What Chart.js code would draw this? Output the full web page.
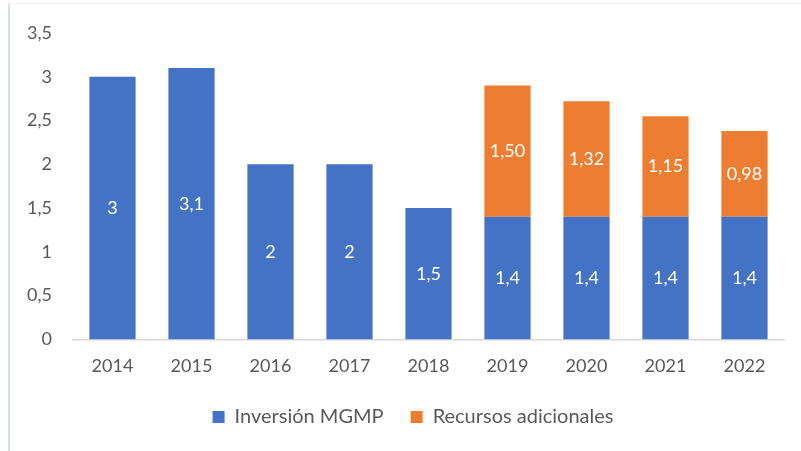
<!DOCTYPE html>
<html>
<head>
<meta charset="utf-8">
<script src="https://cdn.jsdelivr.net/npm/chart.js@4.4.0/dist/chart.umd.min.js"></script>
<style>
  html, body { margin: 0; padding: 0; background: #fff; }
  #caja { position: absolute; left: 8px; top: 3px; width: 793px; height: 448px;
          border-left: 2px solid #d6deee; border-top: 1px solid #eef1f7; box-sizing: border-box; }
  #grafico { position: absolute; left: 0; top: 0; }
</style>
</head>
<body>
<div id="caja"></div>
<canvas id="grafico" width="801" height="451"></canvas>
<script>
var anios = ['2014', '2015', '2016', '2017', '2018', '2019', '2020', '2021', '2022'];
var inversion_mgmp = [3, 3.1, 2, 2, 1.5, 1.4, 1.4, 1.4, 1.4];
var recursos_adicionales = [null, null, null, null, null, 1.50, 1.32, 1.15, 0.98];
var ticks_y = ['0', '0,5', '1', '1,5', '2', '2,5', '3', '3,5'];

var fuente = 'Lato, "Open Sans", sans-serif';

// etiquetas blancas en el centro de cada barra
var etiquetas = {
    id: 'etiquetas',
    afterLayout: function (chart) {
        // correr la leyenda un poco a la derecha
        chart.legend.left += 30;
    },
    afterDatasetsDraw: function (chart) {
        var ctx = chart.ctx;
        ctx.save();
        ctx.fillStyle = '#ffffff';
        ctx.font = '18px ' + fuente;
        ctx.textAlign = 'center';
        ctx.textBaseline = 'middle';
        chart.data.datasets.forEach(function (ds, d) {
            var meta = chart.getDatasetMeta(d);
            meta.data.forEach(function (bar, i) {
                var v = ds.data[i];
                if (v == null) return;
                var txt = d == 0 ? String(v).replace('.', ',') : v.toFixed(2).replace('.', ',');
                ctx.fillText(txt, bar.x, (bar.y + bar.base) / 2);
            });
        });
        ctx.restore();
    }
};

var chart_barras = new Chart(document.getElementById('grafico').getContext('2d'), {
    type: 'bar',
    data: {
        labels: anios,
        datasets: [{
            label: 'Inversión MGMP',
            data: inversion_mgmp,
            backgroundColor: '#4472C4',
            categoryPercentage: 1,
            barPercentage: 0.585
        }, {
            label: 'Recursos adicionales',
            data: recursos_adicionales,
            backgroundColor: '#ED7D31',
            categoryPercentage: 1,
            barPercentage: 0.585
        }]
    },
    options: {
        responsive: false,
        animation: false,
        layout: { padding: { left: 12, right: 17, top: 33, bottom: 14 } },
        scales: {
            x: {
                stacked: true,
                grid: { display: false },
                border: { display: true, color: '#d9d9d9', width: 1.5 },
                afterFit: function (scale) { scale.height = scale.height - 5; },
                ticks: { color: '#595959', font: { family: fuente, size: 18 }, padding: 8 }
            },
            y: {
                stacked: true,
                min: 0,
                max: 3.5,
                grid: { display: false },
                border: { display: false },
                afterFit: function (scale) { scale.width = 61; },
                ticks: {
                    stepSize: 0.5,
                    color: '#595959',
                    font: { family: fuente, size: 18 },
                    padding: 13,
                    callback: function (v, i) { return ticks_y[i]; }
                }
            }
        },
        plugins: {
            legend: {
                position: 'bottom',
                labels: {
                    boxWidth: 12,
                    boxHeight: 12,
                    padding: 27,
                    color: '#595959',
                    font: { family: fuente, size: 20 }
                }
            },
            tooltip: { enabled: false }
        }
    },
    plugins: [etiquetas]
});
</script>
</body>
</html>
